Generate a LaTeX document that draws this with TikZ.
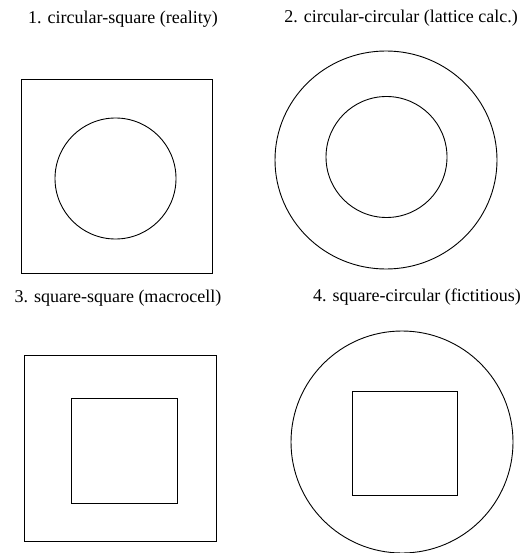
\documentclass[tikz,border=0pt]{standalone}
\usepackage{fontspec}
\setmainfont{Liberation Serif}
\begin{document}
\begin{tikzpicture}[x=1pt,y=-1pt,
  outline/.style={draw=black,line width=0.9pt},
  caption/.style={font=\fontsize{18}{20}\selectfont,inner sep=0pt,anchor=center}]
\useasboundingbox (0,0) rectangle (527,553);
% panel 1
\node[caption] (t1) at (123,19) {1. circular-square (reality)};
\draw[outline] (21,79) rectangle (212,273);
\draw[outline] (115.5,178.5) circle[radius=60.5];
% panel 2
\node[caption] (t2) at (401,18) {2. circular-circular (lattice calc.)};
\draw[outline] (386,160) circle[x radius=111,y radius=109];
\draw[outline] (386.5,157) circle[radius=60.5];
% panel 3
\node[caption] (t3) at (118,298) {3. square-square (macrocell)};
\draw[outline] (24,355) rectangle (216,541);
\draw[outline] (71,398) rectangle (177,503);
% panel 4
\node[caption] (t4) at (417,297) {4. square-circular (fictitious)};
\draw[outline] (402,442) circle[radius=111];
\draw[outline] (352,391) rectangle (457,495);
\end{tikzpicture}
\end{document}
